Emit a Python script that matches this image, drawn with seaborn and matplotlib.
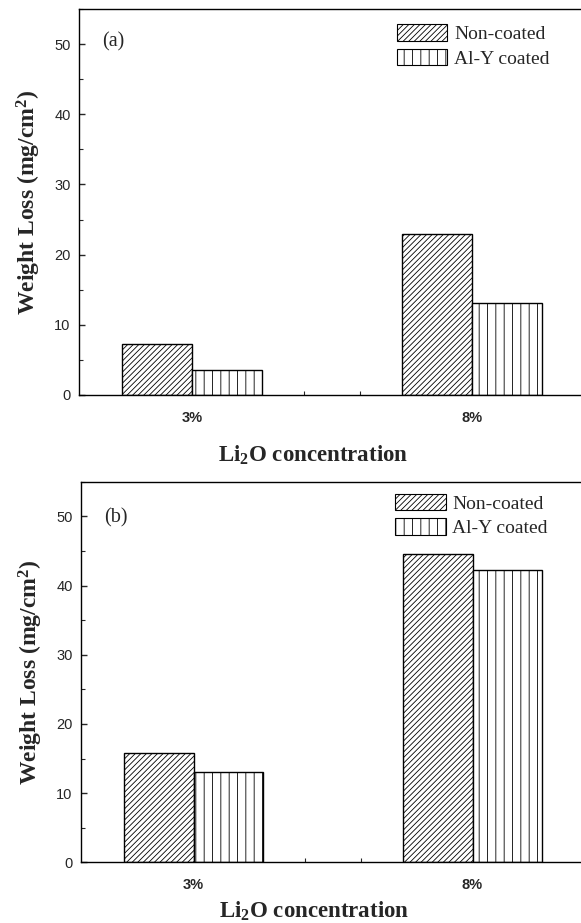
import matplotlib
matplotlib.use("Agg")
import matplotlib.pyplot as plt
import seaborn as sns
import pandas as pd
from matplotlib.patches import Patch
from matplotlib.ticker import MultipleLocator, FixedLocator

# ---- data ----
concentrations = ["3%", "8%"]
series_names = ["Non-coated", "Al-Y coated"]
a_noncoated = [7.2, 22.9]
a_coated = [3.6, 13.1]
b_noncoated = [15.8, 44.6]
b_coated = [13.1, 42.3]
panel_labels = ["(a)", "(b)"]
yticks = [0, 10, 20, 30, 40, 50]

sns.set_style("ticks")
plt.rcParams["mathtext.fontset"] = "custom"
plt.rcParams["mathtext.rm"] = "Liberation Serif:bold"
plt.rcParams["mathtext.it"] = "Liberation Serif:bold"
plt.rcParams["mathtext.bf"] = "Liberation Serif:bold"
plt.rcParams["hatch.linewidth"] = 0.6
plt.rcParams["font.family"] = ["Liberation Sans", "DejaVu Sans"]

W, H = 581, 923
fig = plt.figure(figsize=(W / 100, H / 100), dpi=100)

def make_df(nc, c):
    return pd.DataFrame({
        "conc": concentrations * 2,
        "loss": list(nc) + list(c),
        "type": [series_names[0]] * 2 + [series_names[1]] * 2,
    })

hatches = ["//////", "||"]
panels = [
    dict(nc=a_noncoated, c=a_coated, left=79, top=9, bottom=395,
         xlab_y=-0.125, leg=(0.633, 0.960), lab_y=0.915),
    dict(nc=b_noncoated, c=b_coated, left=81, top=481.7, bottom=862.3,
         xlab_y=-0.097, leg=(0.628, 0.968), lab_y=0.905),
]

for i, p in enumerate(panels):
    ax = fig.add_axes([p["left"] / W, 1 - p["bottom"] / H,
                       (W - p["left"]) / W, (p["bottom"] - p["top"]) / H])
    df = make_df(p["nc"], p["c"])
    sns.barplot(data=df, x="conc", y="loss", hue="type", hue_order=series_names,
                order=concentrations, width=0.5, palette=["white", "white"],
                edgecolor="black", linewidth=1.0, errorbar=None, legend=False,
                gap=0, saturation=1, ax=ax)
    for cont, h in zip(ax.containers, hatches):
        for bar in cont:
            bar.set_hatch(h)
            bar.set_facecolor("white")
            bar.set_edgecolor("black")

    ax.set_xlim(-0.404, 1.389)
    ax.set_ylim(0, 55)
    ax.yaxis.set_major_locator(FixedLocator(yticks))
    ax.yaxis.set_minor_locator(MultipleLocator(5))
    ax.xaxis.set_minor_locator(FixedLocator([-0.2, 0.2, 0.4, 0.6, 0.8, 1.2]))
    ax.tick_params(axis="y", which="major", direction="in", length=4.5, width=1,
                   pad=6, labelsize=10.5)
    ax.tick_params(axis="y", which="minor", direction="in", length=3, width=0.8)
    ax.tick_params(axis="x", which="major", direction="in", length=3, width=0.8,
                   pad=11.5, labelsize=10.5)
    ax.tick_params(axis="x", which="minor", direction="in", length=3, width=0.8)
    for lbl in ax.get_xticklabels():
        lbl.set_fontweight("bold")
    for side in ["left", "bottom", "top"]:
        ax.spines[side].set_visible(True)
        ax.spines[side].set_linewidth(1.0)
        ax.spines[side].set_color("black")
    ax.spines["right"].set_visible(False)

    ax.set_ylabel(r"Weight Loss (mg/cm$^{2}$)", family="Liberation Serif",
                  fontweight="bold", fontsize=17)
    ax.yaxis.set_label_coords(-0.072, 0.5)
    ax.set_xlabel(r"Li$_{2}$O concentration", family="Liberation Serif",
                  fontweight="bold", fontsize=16.5, va="top")
    ax.xaxis.set_label_coords(0.466, p["xlab_y"])

    ax.text(0.046, p["lab_y"], panel_labels[i], transform=ax.transAxes,
            family="Liberation Serif", fontsize=14.5, ha="left", va="center")

    handles = [Patch(facecolor="white", edgecolor="black", hatch=h, linewidth=0.8, label=n)
               for h, n in zip(hatches, series_names)]
    ax.legend(handles=handles, loc="upper left", bbox_to_anchor=p["leg"],
              frameon=False, prop={"family": "Liberation Serif", "size": 14},
              handlelength=2.6, handleheight=0.9, handletextpad=0.35,
              labelspacing=0.3, borderpad=0, borderaxespad=0)

fig.savefig("out.png", dpi=100)
